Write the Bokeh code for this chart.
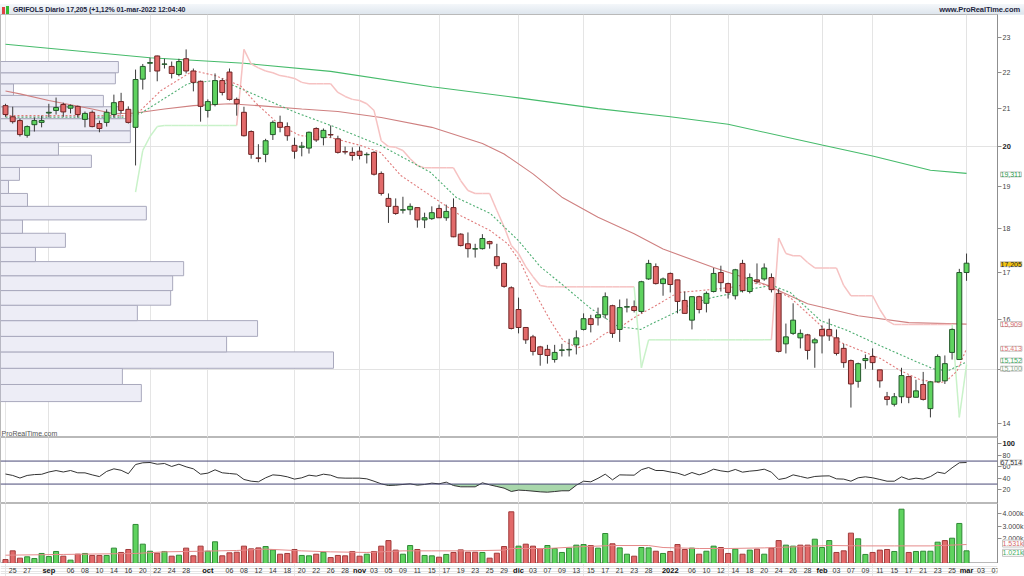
import numpy as np
from bokeh.plotting import figure
from bokeh.models import Range1d, FixedTicker, Label, Span, Div, Grid, PrintfTickFormatter
from bokeh.layouts import column, row
from bokeh.embed import file_html
from bokeh.resources import INLINE
from bokeh.core.properties import value

FONT = "Liberation Sans"

# ---------------- data ----------------
title_text = "GRIFOLS Diario 17,205 (+1,12% 01-mar-2022 12:04:40"
site_text = "www.ProRealTime.com"

opens = [21.07, 20.77, 20.67, 20.28, 20.56, 20.62, 20.87, 20.94, 21.10, 21.00,
         21.05, 20.70, 20.89, 20.59, 20.62, 20.83, 21.18, 20.97, 20.49, 21.80,
         22.25, 22.46, 22.22, 22.16, 21.93, 22.38, 22.03, 21.74, 20.94, 21.10,
         21.76, 22.00, 21.24, 20.89, 20.38, 19.70, 19.79, 20.30, 20.62, 20.51,
         20.02, 19.97, 19.95, 20.46, 20.22, 20.30, 20.19, 19.86, 19.84, 19.87,
         19.78, 19.84, 19.31, 18.70, 18.51, 18.42, 18.43, 18.48, 18.19, 18.22,
         18.46, 18.24, 18.48, 17.86, 17.64, 17.52, 17.53, 17.69, 17.35, 17.20,
         16.67, 16.21, 15.84, 15.65, 15.45, 15.40, 15.20, 15.38, 15.39, 15.49,
         15.80, 16.02, 16.04, 16.10, 16.29, 15.80, 16.26, 16.27, 16.17, 16.86,
         17.13, 16.76, 16.98, 16.84, 16.40, 15.99, 16.48, 16.34, 16.59, 17.00,
         16.76, 16.50, 17.20, 16.59, 16.84, 16.86, 16.89, 16.55, 15.51, 15.72,
         15.63, 15.69, 15.53, 15.80, 15.80, 15.63, 15.42, 15.18, 14.78, 15.18,
         15.26, 15.00, 14.49, 14.35, 14.49, 14.87, 14.48, 14.72, 14.27, 14.77,
         14.79, 15.34, 15.20, 17.00]
highs = [21.12, 21.04, 20.72, 20.54, 20.75, 20.80, 21.12, 21.29, 21.15, 21.10,
         21.07, 20.91, 20.94, 20.67, 20.97, 21.37, 21.42, 21.05, 22.07, 22.23,
         22.41, 22.47, 22.38, 22.30, 22.38, 22.65, 22.10, 21.76, 21.24, 21.96,
         21.82, 22.10, 21.29, 21.04, 20.41, 20.05, 20.19, 20.67, 20.80, 20.62,
         20.22, 20.11, 20.38, 20.49, 20.46, 20.54, 20.27, 19.99, 19.97, 19.99,
         19.84, 19.87, 19.36, 18.82, 18.70, 18.74, 18.58, 18.48, 18.36, 18.51,
         18.55, 18.55, 18.70, 17.88, 17.90, 17.64, 17.86, 17.71, 17.64, 17.22,
         16.70, 16.46, 15.84, 15.69, 15.47, 15.49, 15.49, 15.51, 15.61, 15.78,
         16.13, 16.10, 16.25, 16.57, 16.31, 16.42, 16.44, 16.40, 16.82, 17.28,
         17.20, 16.89, 17.00, 16.84, 16.59, 16.48, 16.50, 16.59, 17.10, 17.15,
         16.78, 17.08, 17.28, 16.98, 17.20, 17.20, 16.98, 16.65, 15.92, 16.34,
         15.80, 15.71, 15.63, 15.88, 16.02, 15.80, 15.51, 15.20, 15.14, 15.30,
         15.42, 15.00, 14.58, 14.56, 15.04, 14.89, 14.81, 14.96, 14.78, 15.30,
         15.28, 15.82, 17.08, 17.42]
lows = [20.77, 20.59, 20.25, 20.22, 20.38, 20.49, 20.75, 20.83, 20.77, 20.86,
        20.75, 20.49, 20.49, 20.36, 20.51, 20.75, 20.86, 20.59, 19.51, 21.51,
        22.00, 21.74, 22.10, 21.82, 21.88, 21.96, 21.46, 20.64, 20.75, 21.05,
        21.35, 21.21, 20.80, 20.25, 19.68, 19.59, 19.59, 20.16, 20.36, 20.14,
        19.68, 19.74, 19.81, 20.11, 20.02, 20.22, 19.81, 19.79, 19.63, 19.66,
        19.56, 19.26, 18.77, 18.12, 18.31, 18.34, 18.31, 18.01, 18.00, 18.19,
        18.24, 18.17, 17.79, 17.58, 17.33, 17.33, 17.51, 17.53, 17.08, 16.67,
        15.80, 15.72, 15.51, 15.28, 15.08, 15.12, 15.14, 15.26, 15.26, 15.30,
        15.78, 15.74, 15.88, 16.02, 15.63, 15.55, 16.15, 16.15, 16.13, 16.84,
        16.74, 16.50, 16.57, 16.13, 16.13, 15.80, 16.13, 16.15, 16.57, 16.59,
        16.44, 16.42, 16.57, 16.55, 16.76, 16.82, 16.57, 15.34, 15.32, 15.69,
        15.42, 15.20, 15.04, 15.32, 15.57, 15.28, 15.04, 14.29, 14.66, 15.02,
        15.00, 14.66, 14.33, 14.31, 14.37, 14.37, 14.48, 14.42, 14.11, 14.76,
        14.73, 15.20, 15.20, 16.82]
closes = [20.83, 20.64, 20.30, 20.51, 20.67, 20.67, 20.89, 21.02, 20.90, 21.07,
          20.83, 20.86, 20.51, 20.46, 20.89, 21.15, 20.94, 20.62, 21.79, 22.16,
          22.27, 22.03, 22.23, 21.96, 22.30, 22.03, 21.71, 21.05, 21.18, 21.76,
          21.43, 21.24, 21.12, 20.27, 19.79, 19.69, 20.14, 20.62, 20.49, 20.27,
          19.87, 20.00, 20.36, 20.16, 20.41, 20.29, 19.84, 19.85, 19.76, 19.76,
          19.79, 19.29, 18.82, 18.51, 18.34, 18.43, 18.51, 18.19, 18.24, 18.36,
          18.24, 18.39, 17.80, 17.60, 17.53, 17.53, 17.76, 17.64, 17.15, 16.70,
          15.82, 15.84, 15.59, 15.36, 15.30, 15.28, 15.34, 15.39, 15.40, 15.63,
          16.02, 15.90, 16.10, 16.48, 15.72, 16.25, 16.27, 16.19, 16.80, 17.20,
          16.76, 16.86, 16.74, 16.38, 16.13, 16.48, 16.21, 16.55, 16.98, 16.78,
          16.57, 17.06, 16.61, 16.89, 16.80, 17.10, 16.63, 15.36, 15.65, 15.99,
          15.72, 15.38, 15.59, 15.67, 15.67, 15.32, 15.14, 14.73, 15.12, 15.22,
          15.14, 14.79, 14.44, 14.49, 14.89, 14.48, 14.60, 14.44, 14.77, 15.26,
          15.12, 15.80, 17.00, 17.205]

# volume, thousands of shares
volume_k = [320, 1020, 430, 540, 400, 810, 560, 970, 590, 270,
            750, 810, 650, 650, 650, 1240, 890, 1130, 3150, 1560,
            990, 830, 970, 590, 670, 1240, 620, 1400, 990, 1750,
            620, 860, 910, 1400, 1180, 1260, 1370, 1100, 750, 810,
            1130, 650, 620, 750, 910, 480, 650, 620, 970, 590,
            750, 970, 1400, 1850, 1080, 750, 1450, 1130, 650, 620,
            510, 730, 890, 1100, 910, 910, 890, 430, 830, 1370,
            4170, 1400, 1560, 1400, 1210, 1450, 1210, 890, 1240, 1480,
            1530, 1450, 1240, 2420, 1590, 1260, 750, 590, 1290, 1260,
            990, 810, 970, 1530, 1130, 1240, 750, 990, 1400, 1290,
            810, 1160, 750, 1080, 1160, 750, 1240, 1850, 1480, 1400,
            1480, 1480, 1960, 1290, 1850, 890, 1020, 2450, 1990, 730,
            890, 1080, 1130, 970, 4380, 890, 970, 990, 990, 1720,
            1850, 2040, 3230, 1021]
# 1 = volume bar drawn green (up day), 0 = red
volume_up = [0, 0, 0, 1, 1, 1, 1, 1, 0, 1,
             0, 1, 0, 0, 1, 1, 0, 0, 1, 1,
             1, 0, 1, 0, 1, 0, 0, 0, 1, 1,
             0, 0, 0, 0, 0, 0, 1, 1, 0, 0,
             0, 1, 1, 0, 1, 0, 0, 0, 0, 0,
             1, 0, 0, 0, 0, 1, 1, 0, 1, 1,
             0, 1, 0, 0, 0, 0, 1, 0, 0, 0,
             0, 1, 0, 0, 0, 1, 1, 1, 1, 1,
             1, 0, 1, 1, 0, 1, 1, 0, 1, 1,
             0, 1, 0, 0, 0, 1, 0, 1, 1, 0,
             0, 1, 0, 1, 0, 1, 0, 0, 1, 1,
             0, 0, 1, 1, 1, 0, 0, 0, 1, 1,
             0, 0, 0, 1, 1, 0, 1, 1, 1, 1,
             0, 1, 1, 1]

rsi = [47.5, 45, 40.5, 45, 46.5, 47, 51, 53.5, 51, 53.6,
       49.6, 49.5, 46, 43, 52, 56.5, 54, 48, 64, 67,
       67.5, 64.6, 65.8, 60.6, 64.6, 60, 56.5, 47.2, 49, 54.8,
       49.6, 48.4, 47.2, 38, 35, 33.9, 40.9, 46, 45, 42.6,
       38.6, 40.9, 45.5, 43.8, 47.2, 45.5, 40.9, 40.3, 40.3, 40.3,
       39.1, 35, 30.4, 27.5, 28.1, 29.3, 30.4, 28.1, 29.3, 31.6,
       30.4, 33.3, 27.5, 25.2, 25.2, 25.2, 32.2, 28.7, 25.8, 22.9,
       17.1, 19.5, 18.8, 17.7, 16.5, 15.9, 17, 18.3, 18.3, 28,
       35, 33.9, 40, 47.2, 37.4, 46, 45.7, 45.5, 55, 58.8,
       53.6, 53.6, 51, 49, 44.9, 50.1, 46, 50, 55.9, 53,
       51.3, 55.4, 50.7, 52.5, 53.6, 55.9, 50.7, 38, 40.3, 46,
       43.2, 40.3, 43.2, 44, 44.3, 39.1, 38.6, 35, 40.9, 42.6,
       40.9, 38, 35, 35, 42.6, 38, 40.3, 38.6, 43, 50.7,
       48.4, 58.3, 67, 67.514]
rsi_levels = [70, 30]

# long moving average (green) and medium moving average (red), read at a few bars
gma_idx = [0, 20, 33, 45, 59, 71, 82, 92, 100, 113, 120, 128, 133]
gma_val = [22.80, 22.41, 22.25, 22.02, 21.59, 21.28, 20.99, 20.77, 20.57, 20.03, 19.75, 19.39, 19.311]
rma_idx = [0, 2, 6, 12, 15, 18, 22, 26, 31, 35, 41, 46, 52, 59, 66, 69, 73, 77, 82, 87, 91, 98, 105, 111, 118, 125, 133]
rma_val = [21.47, 21.39, 21.21, 20.98, 20.85, 20.87, 20.98, 21.07, 21.12, 21.07, 20.98, 20.91, 20.75, 20.49,
           20.07, 19.80, 19.30, 18.73, 18.25, 17.87, 17.52, 17.11, 16.75, 16.33, 16.08, 15.94, 15.909]

# fast (pink) and slow (green) dotted averages
fast_idx = [0, 16.6, 18.7, 21.5, 26, 29, 32.5, 34.6, 38, 40.8, 45, 49.1, 51.9, 54.7, 58.8, 63, 67.1, 69.5,
            71.3, 73.1, 75.4, 77.2, 79.2, 81, 83, 84.8, 87.2, 89.5, 93.1, 96.2, 100.1, 103.4, 105.6, 107.2,
            108.6, 111.8, 115.1, 117.4, 121.1, 123.9, 126.6, 129.4, 130.4, 131.7, 133]
fast_val = [20.80, 20.80, 20.94, 21.48, 22.04, 21.90, 21.62, 21.15, 20.54, 20.27, 20.22, 20.02, 19.84, 19.26,
            18.77, 18.29, 17.94, 17.64, 17.22, 16.61, 15.98, 15.57, 15.43, 15.51, 15.72, 15.82, 16.06, 16.25,
            16.57, 16.61, 16.67, 16.77, 16.72, 16.57, 16.46, 16.02, 15.57, 15.43, 15.22, 14.98, 14.81, 14.75,
            14.81, 14.98, 15.413]
slow_idx = [0, 16.6, 18.7, 25.2, 28.8, 31.6, 40.1, 45, 51.9, 58.8, 62.4, 67.1, 71, 74, 77.2, 81, 84.8, 87.9,
            89.5, 92.3, 95.1, 97.8, 100.6, 103.4, 106.1, 108.6, 112.8, 116.5, 121.1, 125.7, 128.4, 130.4, 133]
slow_val = [20.76, 20.76, 20.86, 21.67, 21.76, 21.62, 20.89, 20.54, 20.02, 19.34, 18.72, 18.34, 17.71, 17.13,
            16.72, 16.23, 15.86, 15.80, 15.92, 16.12, 16.34, 16.46, 16.55, 16.65, 16.72, 16.57, 15.98, 15.78,
            15.47, 15.18, 15.02, 14.98, 15.152]

# trailing stop, one value per bar; side: p = above price (pink), g = below price (green)
nan = float("nan")
stop_val = ([nan] * 18 + [18.85, 19.89, 20.25, 20.51] + [20.54] * 11 +
            [22.65, 22.23, 22.12, 22.03, 21.98, 21.90, 21.87, 21.82, 21.71, 21.67, 21.67, 21.67, 21.67,
             21.43, 21.32, 21.24, 21.21, 21.12, 20.94, 20.14, 19.99, 19.97, 19.89, 19.68, 19.51] +
            [19.45] * 5 + [19.13, 18.89] + [18.82] * 3 + [18.41, 18.03, 17.60, 17.42, 17.13, 16.91, 16.72] +
            [16.69] * 13 + [15.04] + [15.59] * 18 +
            [17.77, 17.42, 17.37, 17.37, 17.22, 17.10] + [17.10] * 3 + [16.72, 16.50] + [16.50] * 3 +
            [16.21, 15.98, 15.90] + [15.90] * 8 + [14.11, 15.10])
stop_side = "p" * 18 + "g" * 15 + "p" * 55 + "g" * 19 + "p" * 25 + "g" * 2

# volume by price (left histogram): bin edges and relative volume (% of the largest bin)
prof_edges = [14.40, 14.72, 15.03, 15.35, 15.66, 15.98, 16.30, 16.61, 16.93, 17.24, 17.56, 17.88, 18.19,
              18.51, 18.82, 19.14, 19.46, 19.77, 20.09, 20.40, 20.72, 21.04, 21.35, 21.67, 21.98, 22.30]
prof_pct = [42.3, 36.6, 100, 67.9, 77.2, 41.1, 51.1, 51.7, 55.0, 10.5, 19.5, 6.6, 43.8, 8.1, 2.4, 5.7,
            27.3, 17.4, 39.0, 39.0, 36.0, 30.9, 3.9, 34.5, 35.4]

# volume moving average (thousands), read at a few bars
vma_idx = [0, 8, 18, 22, 27, 32, 36, 41, 45, 50, 55, 59, 64, 69, 70, 75, 79, 84, 89, 91, 96, 100, 105,
           109, 114, 119, 123, 128, 133]
vma_val = [670, 730, 810, 940, 990, 1050, 1160, 1020, 940, 890, 1020, 1020, 1020, 1080, 1210, 1210, 1340,
           1450, 1450, 1290, 1210, 1210, 1260, 1340, 1450, 1420, 1420, 1420, 1531]

# x-axis labels (bar index -> text), months in bold
day_idx = [1, 3, 9, 11, 13, 15, 17, 19, 21, 23, 25, 31, 33, 35, 37, 39, 41, 43, 45, 47, 51, 53, 55, 57, 59,
           61, 63, 65, 67, 69, 73, 75, 77, 79, 81, 83, 85, 87, 89, 95, 97, 99, 101, 103, 105, 107, 109, 111,
           115, 117, 119, 121, 123, 125, 127, 129, 131, 135, 137]
day_txt = ["25", "27", "06", "08", "10", "14", "16", "20", "22", "24", "28", "06", "08", "12", "14", "18",
           "20", "22", "26", "28", "03", "05", "09", "11", "15", "17", "19", "23", "25", "29", "03", "07",
           "09", "13", "15", "17", "21", "23", "28", "06", "10", "12", "14", "18", "20", "24", "26", "28",
           "03", "07", "09", "11", "15", "17", "21", "23", "25", "03", "07"]
month_idx = [6, 28, 49, 71, 92, 113, 133]
month_txt = ["sep", "oct", "nov", "dic", "2022", "feb", "mar"]

price_ticks = [14, 15, 16, 17, 18, 19, 20, 21, 22, 23]
rsi_ticks = [20, 40, 60, 80, 100]
vol_ticks = [2000, 3000, 4000]

# ---------------- drawing ----------------
N = len(closes)
idx = np.arange(N)
PXB = 7.226              # pixels per bar
XL = -0.69
FW = 997                 # frame width
RB = 27                  # right border (axis area)
XR = XL + FW / PXB
xr = Range1d(XL, XR)

P_H, R_H, V_H = 423, 66, 60
p_range = Range1d(13.75, 23.69)
r_range = Range1d(-3.8, 111.0)
v_range = Range1d(0, 4840)

GREEN_FILL, GREEN_LINE = "#5fd35f", "#23572a"
RED_FILL, RED_LINE = "#e26a6a", "#6e2424"


def make_fig(h, yr, log=False, axis=True):
    f = figure(frame_width=FW, frame_height=h, x_range=xr, y_range=yr,
               y_axis_type="log" if log else "linear",
               y_axis_location="right" if axis else None, x_axis_location=None,
               output_backend="svg", toolbar_location=None,
               min_border_left=0, min_border_right=RB, min_border_top=0, min_border_bottom=0,
               background_fill_color="white", border_fill_color="white",
               outline_line_color="#b9b9b9" if axis else None)
    if axis:
        f.ygrid.visible = False
        ax = f.yaxis[0]
        ax.axis_line_color = "#8f8f8f"
        ax.major_tick_line_color = "#8f8f8f"
        ax.major_tick_out = 4
        ax.major_tick_in = 0
        ax.minor_tick_line_color = None
        ax.major_label_text_font = FONT
        ax.major_label_text_font_size = "7px"
        ax.major_label_text_color = "#444444"
        ax.major_label_standoff = 1
        f.add_layout(Grid(dimension=0, ticker=FixedTicker(ticks=month_idx),
                          grid_line_color="#e3e3e3"))
    return f


def make_overlay(h, yr, log=False):
    # transparent strip laid over the axis area, sharing the panel's y range, for the value tags
    o = figure(frame_width=RB, frame_height=h, x_range=Range1d(0, RB), y_range=yr,
               y_axis_type="log" if log else "linear",
               x_axis_location=None, y_axis_location=None,
               output_backend="svg", toolbar_location=None,
               min_border_left=0, min_border_right=0, min_border_top=0, min_border_bottom=0,
               outline_line_color=None, background_fill_alpha=0, border_fill_alpha=0,
               margin=(0, 0, 0, -RB))
    o.grid.visible = False
    return o


def tag(o, y, text, color, bg="white", dy=0, bold=False, box=True, size="7px", dx=3):
    o.add_layout(Label(x=dx, y=y, x_units="screen", y_offset=dy, text=text, text_font=FONT,
                       text_font_size=size, text_color=color, text_baseline="middle",
                       text_font_style="bold" if bold else "normal",
                       background_fill_color=bg if box else None,
                       border_line_color="#c4c4c4" if box else None))


# ---- price panel ----
pp = make_fig(P_H, p_range, log=True)
pp.yaxis[0].ticker = FixedTicker(ticks=price_ticks)
pp.yaxis[0].formatter = PrintfTickFormatter(format="%d")
pp.yaxis[0].major_label_overrides = {20: ""}
pp.add_layout(Grid(dimension=1, ticker=FixedTicker(ticks=[15, 20]), grid_line_color="#e3e3e3"))

prof_right = [XL + v / 100 * (333 / PXB) for v in prof_pct]
pp.quad(left=XL, right=prof_right, bottom=prof_edges[:-1], top=prof_edges[1:],
        fill_color="#ededf6", line_color="#a9a9bd", line_width=1)

pp.line(gma_idx, gma_val, line_color="#46bb6b", line_width=1.1)
pp.line(rma_idx, rma_val, line_color="#cf8080", line_width=1.1)

# trailing stop segments
sx0, sy0, sx1, sy1, sc = [], [], [], [], []
for i in range(1, N):
    a, b = stop_val[i - 1], stop_val[i]
    if np.isnan(a) or np.isnan(b):
        continue
    sx0.append(i - 1); sy0.append(a); sx1.append(i); sy1.append(b)
    sc.append("#f6c2c2" if stop_side[i] == "p" else "#c9f2c9")
pp.segment(sx0, sy0, sx1, sy1, line_color=sc, line_width=1.5)

pp.line(slow_idx, slow_val, line_color="#4fae72", line_width=1.1, line_dash="2 2")
pp.line(fast_idx, fast_val, line_color="#e07b7b", line_width=1.1, line_dash="2 2")

up = [c >= o for o, c in zip(opens, closes)]
body_top = [max(o, c) for o, c in zip(opens, closes)]
body_bot = [min(o, c) for o, c in zip(opens, closes)]
pp.segment(idx, lows, idx, highs, line_color="#3a3a3a", line_width=1)
pp.vbar(x=idx, width=0.68, top=body_top, bottom=body_bot,
        fill_color=[GREEN_FILL if u else RED_FILL for u in up],
        line_color=[GREEN_LINE if u else RED_LINE for u in up], line_width=1)

pp.add_layout(Label(x=XL, y=p_range.start, x_offset=1, y_offset=1, text="ProRealTime.com", text_font=FONT,
                    text_font_size="7px", text_color="#555555"))

po = make_overlay(P_H, p_range, log=True)
tag(po, 20, "20", "#222222", bold=True, box=False, size="7.5px", dx=5)
tag(po, gma_val[-1], "19,311", "#2e9e4e", dy=-1)
tag(po, closes[-1], "17,205", "#222222", bg="#f2c20f", dy=-1)
tag(po, rma_val[-1], "15,909", "#d46a6a")
tag(po, fast_val[-1], "15,413", "#e07b7b")
tag(po, slow_val[-1], "15,152", "#3fae62", dy=1.5)
tag(po, stop_val[-1], "15,100", "#8aa88a", dy=-4)

# ---- RSI panel ----
pr = make_fig(R_H, r_range)
pr.yaxis[0].ticker = FixedTicker(ticks=rsi_ticks)
pr.yaxis[0].formatter = PrintfTickFormatter(format="%d")
pr.yaxis[0].major_label_overrides = {100: ""}
pr.varea(x=idx, y1=np.minimum(np.array(rsi), rsi_levels[1]), y2=rsi_levels[1],
         fill_color="#9fd3a2", fill_alpha=0.9)
for lv in rsi_levels:
    pr.add_layout(Span(location=lv, dimension="width", line_color="#4a4a78", line_width=1))
pr.line(idx, rsi, line_color="#333333", line_width=1)

ro = make_overlay(R_H, r_range)
tag(ro, 100, "100", "#222222", bold=True, box=False, size="7.5px", dx=5)
tag(ro, rsi[-1], "67,514", "#333333")

# ---- volume panel ----
pv = make_fig(V_H, v_range)
pv.yaxis[0].ticker = FixedTicker(ticks=vol_ticks)
pv.yaxis[0].major_label_overrides = {2000: "2.000k", 3000: "3.000k", 4000: "4.000k"}
pv.vbar(x=idx, width=0.7, top=volume_k, bottom=0,
        fill_color=[GREEN_FILL if u else RED_FILL for u in volume_up],
        line_color=["#2f8a35" if u else "#a03a3a" for u in volume_up], line_width=1)
pv.line(vma_idx, vma_val, line_color="#e58a8a", line_width=1)

vo = make_overlay(V_H, v_range)
tag(vo, vma_val[-1], "1.531k", "#d46a6a", dy=1)
tag(vo, volume_k[-1], "1.021k", "#3fae62", dy=-2)

# ---- date strip ----
ps = make_fig(13, Range1d(0, 1), axis=False)
ps.text(x=day_idx, y=[0.5] * len(day_idx), text=day_txt, text_font=value(FONT),
        text_font_size="7px", text_color="#333333", text_align="center", text_baseline="middle")
ps.text(x=month_idx, y=[0.5] * len(month_idx), text=month_txt, text_font=value(FONT),
        text_font_size="7.5px", text_font_style="bold", text_color="#111111",
        text_align="center", text_baseline="middle")

header = Div(text=("<div style='display:flex;justify-content:space-between;align-items:center;"
                   "width:1024px;height:14px;box-sizing:border-box;padding:0 4px 0 2px;"
                   "background:linear-gradient(#f4f7fa,#d8e1ea);border-bottom:1px solid #a9b4c0;"
                   "font-family:Liberation Sans;font-size:7px;letter-spacing:-0.1px;color:#1d2540;'>"
                   "<span><span style='display:inline-block;width:3px;height:7px;background:#d44;"
                   "margin-right:1px;vertical-align:middle'></span>"
                   "<span style='display:inline-block;width:3px;height:9px;background:#3b3;"
                   "margin-right:4px;vertical-align:middle'></span>"
                   "<b>" + title_text + "</b></span>"
                   "<b style='font-size:7.5px'>" + site_text + "</b></div>"),
             width=1024, height=14, styles={"margin": "0", "padding": "0"})

layout = column(header, row(pp, po, spacing=0), row(pr, ro, spacing=0), row(pv, vo, spacing=0), ps,
                spacing=0)
open("out.html", "w").write(file_html(layout, INLINE))
